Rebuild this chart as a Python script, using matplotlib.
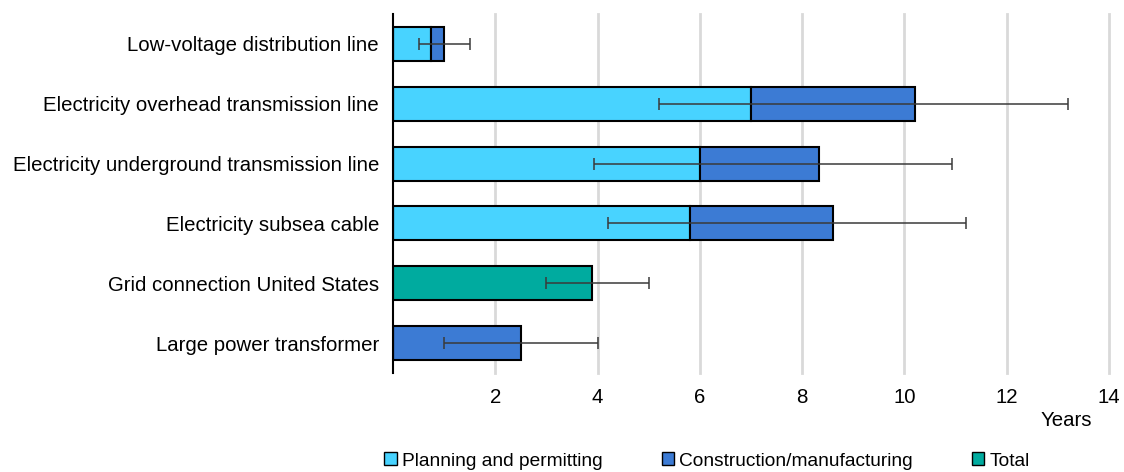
import matplotlib.pyplot as plt
import numpy as np
from matplotlib.patches import Patch

plt.rcParams['font.family'] = ['Liberation Sans', 'DejaVu Sans']

categories = ['Low-voltage distribution line', 'Electricity overhead transmission line',
              'Electricity underground transmission line', 'Electricity subsea cable',
              'Grid connection United States', 'Large power transformer']
planning = [0.75, 7.0, 6.0, 5.8, 0, 0]
construction = [0.25, 3.2, 2.33, 2.8, 0, 2.5]
total_only = [0, 0, 0, 0, 3.9, 0]
err_low = [0.5, 5.2, 3.93, 4.2, 3.0, 1.0]
err_high = [1.5, 13.2, 10.93, 11.2, 5.0, 4.0]
xticks = [2, 4, 6, 8, 10, 12, 14]

c_plan = '#48d3ff'
c_cons = '#3c7bd4'
c_total = '#00ab9f'

fig = plt.figure(figsize=(11.24, 4.72), dpi=100)
ax = fig.add_axes([393 / 1124, 1 - 373 / 472, (1109 - 393) / 1124, 359 / 472])

y = np.arange(len(categories))
planning = np.array(planning)
construction = np.array(construction)
total_only = np.array(total_only)
h = 0.57
ax.barh(y, planning, h, color=c_plan, edgecolor='black', linewidth=1.5, zorder=2)
ax.barh(y, construction, h, left=planning, color=c_cons, edgecolor='black', linewidth=1.5, zorder=2)
ax.barh(y, total_only, h, color=c_total, edgecolor='black', linewidth=1.5, zorder=2)

# error bars around the whole-bar length
ends = planning + construction + total_only
lo = ends - np.array(err_low)
hi = np.array(err_high) - ends
ax.errorbar(ends, y, xerr=[lo, hi], fmt='none', ecolor='#3a3a3a', elinewidth=1.1,
            capsize=4, capthick=1.1, zorder=3)

ax.set_xlim(0, 14)
ax.set_ylim(len(categories) - 0.5, -0.5)
ax.set_yticks(y)
ax.set_yticklabels(categories, fontsize=14.7)
ax.set_xticks(xticks)
ax.set_xticklabels([str(t) for t in xticks], fontsize=14.7)
ax.tick_params(axis='y', length=0, pad=10)
ax.tick_params(axis='x', length=0, pad=11)
ax.grid(axis='x', color='#d9d9d9', linewidth=2, zorder=0)
ax.set_axisbelow(True)
for gl in ax.get_xgridlines():
    gl.set_clip_on(False)
for s in ['top', 'right', 'bottom']:
    ax.spines[s].set_visible(False)
ax.spines['left'].set_linewidth(1.5)
ax.spines['left'].set_color('black')

fig.text(1066 / 1124, 1 - 421 / 472, 'Years', fontsize=14.7, ha='center', va='center')

handles = [Patch(facecolor=c_plan, edgecolor='black', label='Planning and permitting'),
           Patch(facecolor=c_cons, edgecolor='black', label='Construction/manufacturing'),
           Patch(facecolor=c_total, edgecolor='black', label='Total')]
fig.legend(handles=handles, loc='center', bbox_to_anchor=(707 / 1124, 1 - 461 / 472), ncol=3,
           frameon=False, fontsize=13.8, handlelength=0.65, handleheight=0.65, handletextpad=0.25,
           columnspacing=3.1, borderpad=0)

fig.savefig('out.png', dpi=100)
